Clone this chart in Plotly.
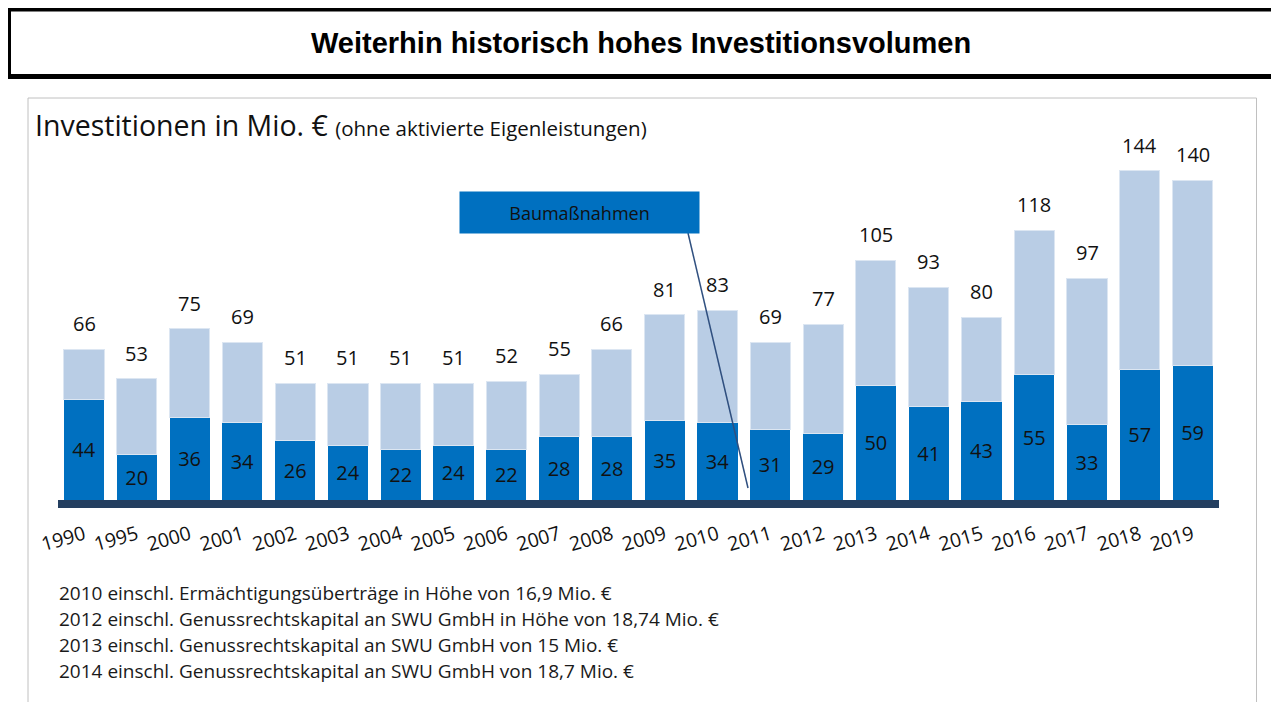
import plotly.graph_objects as go

years = ["1990", "1995", "2000", "2001", "2002", "2003", "2004", "2005", "2006", "2007",
         "2008", "2009", "2010", "2011", "2012", "2013", "2014", "2015", "2016", "2017",
         "2018", "2019"]
baumassnahmen = [44, 20, 36, 34, 26, 24, 22, 24, 22, 28, 28, 35, 34, 31, 29, 50, 41, 43, 55, 33, 57, 59]
gesamt = [66, 53, 75, 69, 51, 51, 51, 51, 52, 55, 66, 81, 83, 69, 77, 105, 93, 80, 118, 97, 144, 140]
footnotes = [
    "2010 einschl. Ermächtigungsüberträge in Höhe von 16,9 Mio. €",
    "2012 einschl. Genussrechtskapital an SWU GmbH in Höhe von 18,74 Mio. €",
    "2013 einschl. Genussrechtskapital an SWU GmbH von 15 Mio. €",
    "2014 einschl. Genussrechtskapital an SWU GmbH von 18,7 Mio. €",
]
rest = [t - d for t, d in zip(gesamt, baumassnahmen)]

W, H = 1279, 702
OFF = 8  # page body margin
def px(x):
    return (x - OFF) / W
def py(y):
    return 1 - (y - OFF) / H

DARK = "#0070C0"
LIGHT = "#B9CDE5"
NAVY = "#243F60"
FONT = "Open Sans"

fig = go.Figure()
fig.add_trace(go.Bar(
    x=years, y=baumassnahmen, marker=dict(color=DARK, line=dict(width=0)),
    text=[str(v) for v in baumassnahmen], textposition="inside", insidetextanchor="middle",
    textfont=dict(family=FONT, size=20, color="#111111"), textangle=0, hoverinfo="skip",
))
fig.add_trace(go.Bar(
    x=years, y=rest, marker=dict(color=LIGHT, line=dict(width=1, color="#DCE6F2")),
    hoverinfo="skip",
))

for i, tot in enumerate(gesamt):
    fig.add_annotation(x=i, y=tot, xref="x", yref="y", text=str(tot), showarrow=False,
                       yanchor="bottom", yshift=10,
                       font=dict(family=FONT, size=20, color="#111111"))

# frames
fig.add_shape(type="rect", xref="paper", yref="paper", x0=px(8.5), x1=px(1275), y0=py(76.5), y1=py(9),
              line=dict(color="black", width=5), fillcolor="white", layer="below")
fig.add_shape(type="rect", xref="paper", yref="paper", x0=px(28), x1=px(1256.5), y0=py(705), y1=py(98),
              line=dict(color="#C0C0C0", width=1), layer="below")

fig.add_annotation(xref="paper", yref="paper", x=px(641), y=py(43), xanchor="center", yanchor="middle",
                   text="<b>Weiterhin historisch hohes Investitionsvolumen</b>",
                   showarrow=False, font=dict(family="Liberation Sans", size=29, color="black"))
fig.add_annotation(xref="paper", yref="paper", x=px(33), y=py(125), xanchor="left", yanchor="middle",
                   text="Investitionen in Mio. € <span style='font-size:20.5px'>(ohne aktivierte Eigenleistungen)</span>",
                   showarrow=False, font=dict(family=FONT, size=28.5, color="#111111"))

# Legend-like callout
fig.add_shape(type="line", xref="paper", yref="paper", x0=px(688), y0=py(233), x1=px(748), y1=py(488),
              line=dict(color="#2F4F7F", width=1.5))
fig.add_annotation(xref="paper", yref="paper", x=px(579.5), y=py(212.5), xanchor="center", yanchor="middle",
                   text="Baumaßnahmen",
                   showarrow=False, width=239, height=41, bgcolor=DARK, borderpad=0,
                   font=dict(family=FONT, size=18, color="#111111"))

for i, t in enumerate(footnotes):
    fig.add_annotation(xref="paper", yref="paper", x=px(57), y=py(593 + i * 26), xanchor="left", yanchor="middle",
                       text=t, showarrow=False, font=dict(family=FONT, size=19, color="#1a1a1a"))

fig.update_layout(
    width=W, height=H, barmode="stack", bargap=0.24, showlegend=False,
    plot_bgcolor="white", paper_bgcolor="white",
    margin=dict(l=0, r=0, t=0, b=0, autoexpand=False),
    xaxis=dict(domain=[px(57.6), px(1219)], type="category", range=[-0.5, 21.5], automargin=False,
               showline=True, linecolor=NAVY, linewidth=8, showgrid=False, ticks="",
               ticklabelstandoff=8,
               tickangle=-16, tickfont=dict(family=FONT, size=19.5, color="#111111")),
    yaxis=dict(domain=[py(500), py(134.4)], range=[0, 160], visible=False, showgrid=False,
               automargin=False),
)

fig.write_html("out.html")
